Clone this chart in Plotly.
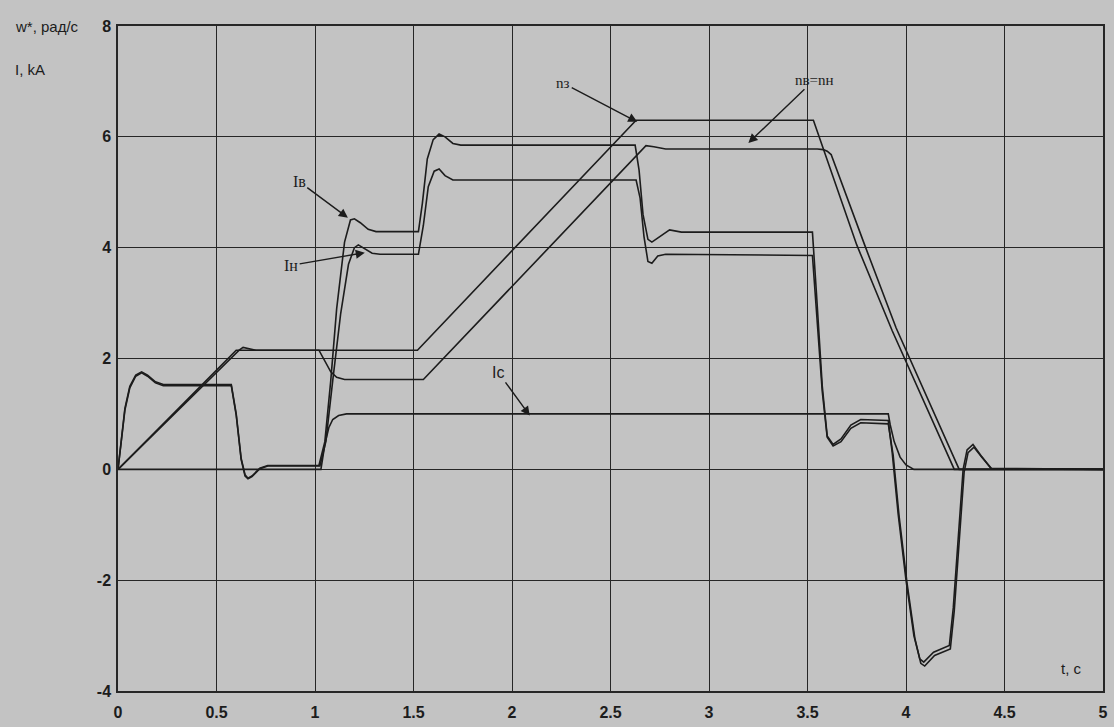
import plotly.graph_objects as go

# ---------------- data ----------------
# reference speed n_з (rad/s)
t_nz = [0, 0.6, 1.52, 2.63, 3.53, 3.75, 3.93, 4.245, 5]
v_nz = [0, 2.15, 2.15, 6.3, 6.3, 4.05, 2.5, 0, 0]

# actual speed n_в = n_н (rad/s)
t_n = [0, 0.615, 0.635, 0.66, 0.7, 1.02, 1.05, 1.08, 1.11, 1.15, 1.55, 2.65, 2.68, 2.72, 2.78,
       3.55, 3.58, 3.6, 3.62, 3.79, 3.95, 4.27, 5]
v_n = [0, 2.15, 2.2, 2.18, 2.15, 2.15, 1.95, 1.76, 1.66, 1.62, 1.62, 5.72, 5.84, 5.82, 5.78,
       5.78, 5.77, 5.74, 5.68, 4.05, 2.55, 0, 0]

# current of the upper motor I_в (kA)
t_iv = [0, 0.015, 0.035, 0.06, 0.09, 0.12, 0.15, 0.19, 0.23, 0.575, 0.6, 0.625, 0.645, 0.66,
        0.68, 0.72, 0.76, 1.02, 1.05, 1.08, 1.11, 1.15, 1.18, 1.2, 1.23, 1.27, 1.31, 1.525,
        1.545, 1.57, 1.6, 1.63, 1.66, 1.7, 1.74, 2.625, 2.645, 2.665, 2.69, 2.71, 2.75, 2.8,
        2.86, 3.525, 3.545, 3.575, 3.6, 3.63, 3.67, 3.72, 3.77, 3.91, 3.93, 3.96, 4.0, 4.04,
        4.07, 4.09, 4.14, 4.22, 4.24, 4.27, 4.29, 4.31, 4.34, 4.38, 4.43, 5]
v_iv = [0, 0.5, 1.1, 1.5, 1.7, 1.76, 1.7, 1.58, 1.53, 1.53, 1.0, 0.2, -0.1, -0.16,
        -0.12, 0.02, 0.07, 0.07, 0.5, 1.6, 2.9, 4.1, 4.5, 4.52, 4.45, 4.33, 4.29, 4.29,
        4.8, 5.6, 5.95, 6.05, 6.0, 5.88, 5.85, 5.85, 5.4, 4.6, 4.15, 4.1, 4.2, 4.32,
        4.28, 4.28, 3.2, 1.5, 0.6, 0.45, 0.55, 0.8, 0.9, 0.88, 0.3, -0.8, -2.0, -3.0,
        -3.42, -3.48, -3.3, -3.18, -2.5, -1.0, 0, 0.35, 0.45, 0.25, 0.02, 0]

# current of the lower motor I_н (kA)
t_in = [0, 0.015, 0.035, 0.06, 0.09, 0.12, 0.15, 0.19, 0.23, 0.575, 0.6, 0.625, 0.645, 0.66,
        0.68, 0.72, 0.76, 1.025, 1.055, 1.09, 1.13, 1.17, 1.2, 1.22, 1.25, 1.29, 1.33, 1.525,
        1.55, 1.575, 1.605, 1.63, 1.66, 1.7, 1.74, 2.63, 2.65, 2.67, 2.69, 2.71, 2.74, 2.78,
        3.525, 3.545, 3.575, 3.6, 3.63, 3.67, 3.72, 3.77, 3.91, 3.935, 3.965, 4.005, 4.045,
        4.075, 4.095, 4.145, 4.225, 4.245, 4.275, 4.295, 4.315, 4.345, 4.385, 4.435, 5]
v_in = [0, 0.48, 1.07, 1.47, 1.68, 1.74, 1.68, 1.56, 1.51, 1.51, 0.98, 0.18, -0.12, -0.17,
        -0.13, 0.01, 0.06, 0.06, 0.5, 1.6, 2.8, 3.7, 4.0, 4.05, 3.98, 3.9, 3.88, 3.88,
        4.4, 5.1, 5.38, 5.42, 5.3, 5.22, 5.22, 5.22, 4.9, 4.2, 3.75, 3.72, 3.85, 3.88,
        3.86, 2.9, 1.4, 0.58, 0.42, 0.5, 0.74, 0.84, 0.82, 0.25, -0.85, -2.05, -3.05,
        -3.5, -3.55, -3.36, -3.24, -2.55, -1.05, -0.05, 0.3, 0.4, 0.22, 0.01, 0]

# load current I_c (kA)
t_ic = [0, 1.03, 1.05, 1.07, 1.09, 1.12, 1.16, 3.91, 3.92, 3.94, 3.97, 4.0, 4.04, 5]
v_ic = [0, 0, 0.45, 0.75, 0.9, 0.97, 1.0, 1.0, 0.8, 0.5, 0.22, 0.08, 0.0, 0]

x_ticks = [0, 0.5, 1, 1.5, 2, 2.5, 3, 3.5, 4, 4.5, 5]
x_ticklabels = ["0", "0.5", "1", "1.5", "2", "2.5", "3", "3.5", "4", "4.5", "5"]
y_ticks = [-4, -2, 0, 2, 4, 6, 8]
y_ticklabels = ["-4", "-2", "0", "2", "4", "6", "8"]

# ---------------- figure ----------------
INK = "#1c1c1c"
PAPER = "#c3c3c3"
fig = go.Figure()
for tx, vy, name in [(t_ic, v_ic, "Ic"), (t_nz, v_nz, "nз"), (t_n, v_n, "nв=nн"),
                     (t_in, v_in, "Iн"), (t_iv, v_iv, "Iв")]:
    fig.add_trace(go.Scatter(x=tx, y=vy, mode="lines", name=name,
                             line=dict(color=INK, width=1.6), showlegend=False,
                             hoverinfo="skip"))

serif = "Liberation Serif"
sans = "Liberation Sans"
ann = [
    # text, text x, text y, tip x, tip y, font
    ("Iв", 0.92, 5.19, 1.167, 4.54, serif, 16),
    ("Iн", 0.879, 3.68, 1.253, 3.91, serif, 16),
    ("nз", 2.26, 6.97, 2.636, 6.27, serif, 15),
    ("nв=nн", 3.535, 7.03, 3.2, 5.89, serif, 15),
    ("Ic", 1.93, 1.75, 2.09, 0.97, sans, 16),
]
for txt, tx, ty, px, py, fam, fs in ann:
    fig.add_annotation(x=px, y=py, ax=tx, ay=ty, axref="x", ayref="y", xref="x", yref="y",
                       text=txt, showarrow=True, arrowhead=2, arrowsize=1.3,
                       arrowwidth=1.4, arrowcolor=INK,
                       font=dict(family=fam, size=fs, color=INK))

fig.add_annotation(xref="paper", yref="paper", x=-0.107, y=1.0, xanchor="left",
                   yanchor="middle", text="w*, рад/с", showarrow=False,
                   font=dict(family=sans, size=15, color=INK))
fig.add_annotation(xref="paper", yref="paper", x=-0.107, y=(470 - 70) / 55.5 / 12 + 4 / 12,
                   xanchor="left", yanchor="middle", text="I, kA", showarrow=False,
                   font=dict(family=sans, size=15, color=INK))
fig.add_annotation(xref="x", yref="y", x=4.84, y=-3.6, text="t, c", showarrow=False,
                   xanchor="center", yanchor="middle",
                   font=dict(family=sans, size=15, color=INK))

fig.update_xaxes(range=[0, 5], tickvals=x_ticks, ticktext=x_ticklabels,
                 showgrid=True, gridcolor="#262626", gridwidth=1.2, zeroline=False,
                 showline=True, linecolor="#262626", linewidth=1.5, mirror=True,
                 ticks="", ticklabelstandoff=6,
                 tickfont=dict(family=sans, size=16, color=INK, weight="bold"))
fig.update_yaxes(range=[-4, 8], tickvals=y_ticks, ticktext=y_ticklabels,
                 showgrid=True, gridcolor="#262626", gridwidth=1.2, zeroline=False,
                 showline=True, linecolor="#262626", linewidth=1.5, mirror=True,
                 ticks="", ticklabelstandoff=2,
                 tickfont=dict(family=sans, size=16, color=INK, weight="bold"))

fig.update_layout(width=1114, height=727, autosize=False,
                  margin=dict(l=118, r=6, t=26, b=35),
                  paper_bgcolor=PAPER, plot_bgcolor=PAPER)

fig.write_html("out.html", config={"displayModeBar": False},
               post_script="document.body.style.margin='0';document.body.style.overflow='hidden';")
